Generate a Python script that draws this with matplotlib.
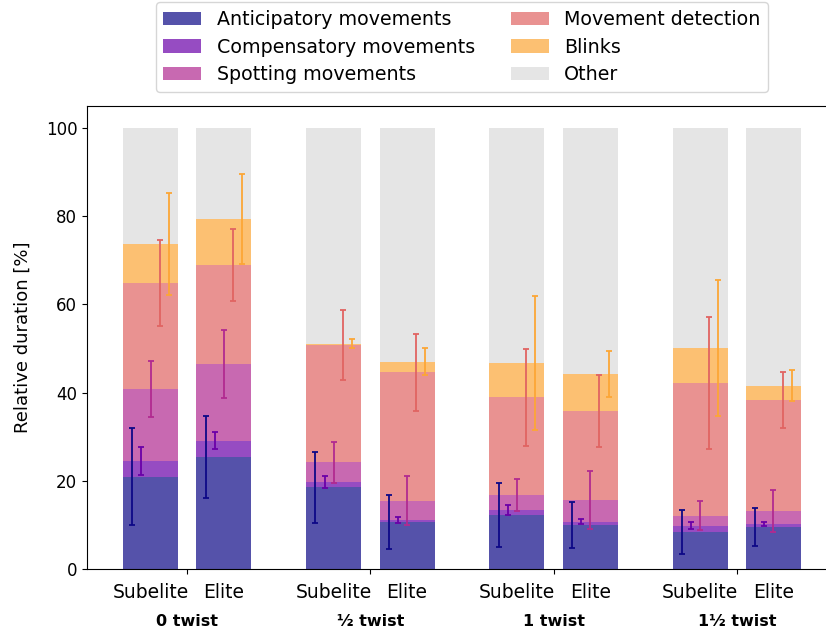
import matplotlib
matplotlib.use('Agg')
import matplotlib.pyplot as plt
import numpy as np

# Groups on the x axis and the two skill levels within each group
twists = ['0 twist', '½ twist', '1 twist', '1½ twist']
levels = ['Subelite', 'Elite']

# Mean relative duration [%] per category, order: (twist, level) -> S0, E0, S1, E1, ...
anticipatory = [20.9, 25.4, 18.5, 10.6, 12.2, 10.0, 8.4, 9.5]
compensatory = [3.6, 3.7, 1.2, 0.5, 1.2, 0.75, 1.4, 0.7]
spotting = [16.3, 17.4, 4.5, 4.4, 3.4, 4.95, 2.3, 2.9]
detection = [24.0, 22.5, 26.55, 29.1, 22.1, 20.2, 30.1, 25.2]
blinks = [8.9, 10.3, 0.35, 2.4, 7.8, 8.3, 7.9, 3.3]

# Standard deviations, same order
anticipatory_sd = [11.0, 9.2, 8.0, 6.1, 7.2, 5.15, 5.0, 4.3]
compensatory_sd = [3.2, 2.0, 1.4, 0.6, 1.1, 0.6, 0.8, 0.4]
spotting_sd = [6.3, 7.75, 4.7, 5.5, 3.6, 6.6, 3.3, 4.8]
detection_sd = [9.8, 8.2, 7.9, 8.75, 11.1, 8.2, 15.0, 6.3]
blinks_sd = [11.6, 10.2, 1.0, 3.1, 15.2, 5.15, 15.5, 3.6]

categories = ['Anticipatory movements', 'Compensatory movements', 'Spotting movements',
              'Movement detection', 'Blinks', 'Other']

means = np.array([anticipatory, compensatory, spotting, detection, blinks])
sds = np.array([anticipatory_sd, compensatory_sd, spotting_sd, detection_sd, blinks_sd])
other = 100 - means.sum(axis=0)

BAR_WIDTH = 0.3
BAR_OFFSET = 0.2
ERR_STEP = 0.05
ALPHA = 0.7

colors = list(plt.cm.plasma(np.linspace(0, 0.8, 5)))
other_color = '#dbdbdb'

plt.rcParams['font.size'] = 12

fig = plt.figure(figsize=(8.26, 6.32), dpi=100)
ax = fig.add_axes([0.1053, 0.0997, 0.9080, 0.7326])

group_pos = np.arange(len(twists))
bar_x = np.array([[g - BAR_OFFSET, g + BAR_OFFSET] for g in group_pos]).ravel()

# Stacked bars
bottom = np.zeros(len(bar_x))
for i in range(len(means)):
    ax.bar(bar_x, means[i], BAR_WIDTH, bottom=bottom, color=colors[i], alpha=ALPHA,
           label=categories[i])
    bottom += means[i]
ax.bar(bar_x, other, BAR_WIDTH, bottom=bottom, color=other_color, alpha=ALPHA,
       label=categories[-1])

# Error bars at the top of each segment, spread across the bar width
tops = np.cumsum(means, axis=0)
for i in range(len(means)):
    ax.errorbar(bar_x + (i - 2) * ERR_STEP, tops[i], yerr=sds[i], fmt='none',
                ecolor=colors[i], elinewidth=1.3, capsize=2.5, capthick=1.3)

ax.set_xlim(-0.547, 3.547)
ax.set_ylim(0, 105)
ax.set_yticks([0, 20, 40, 60, 80, 100])
ax.set_ylabel('Relative duration [%]', fontsize=13, labelpad=10)
ax.spines['right'].set_visible(False)

# Group labels on major ticks, level labels on minor ticks
ax.set_xticks(group_pos)
ax.set_xticklabels(twists, fontsize=11.5, fontweight='bold')
ax.tick_params(axis='x', which='major', pad=29)
ax.set_xticks(bar_x, minor=True)
ax.set_xticklabels(levels * len(twists), minor=True, fontsize=13.5)
ax.tick_params(axis='x', which='minor', length=0, pad=10)

ax.legend(loc='lower center', bbox_to_anchor=(0.5, 1.01), ncol=2, fontsize=13.7,
          handlelength=2.0, columnspacing=1.9, labelspacing=0.45)

fig.savefig('out.png', dpi=100)
